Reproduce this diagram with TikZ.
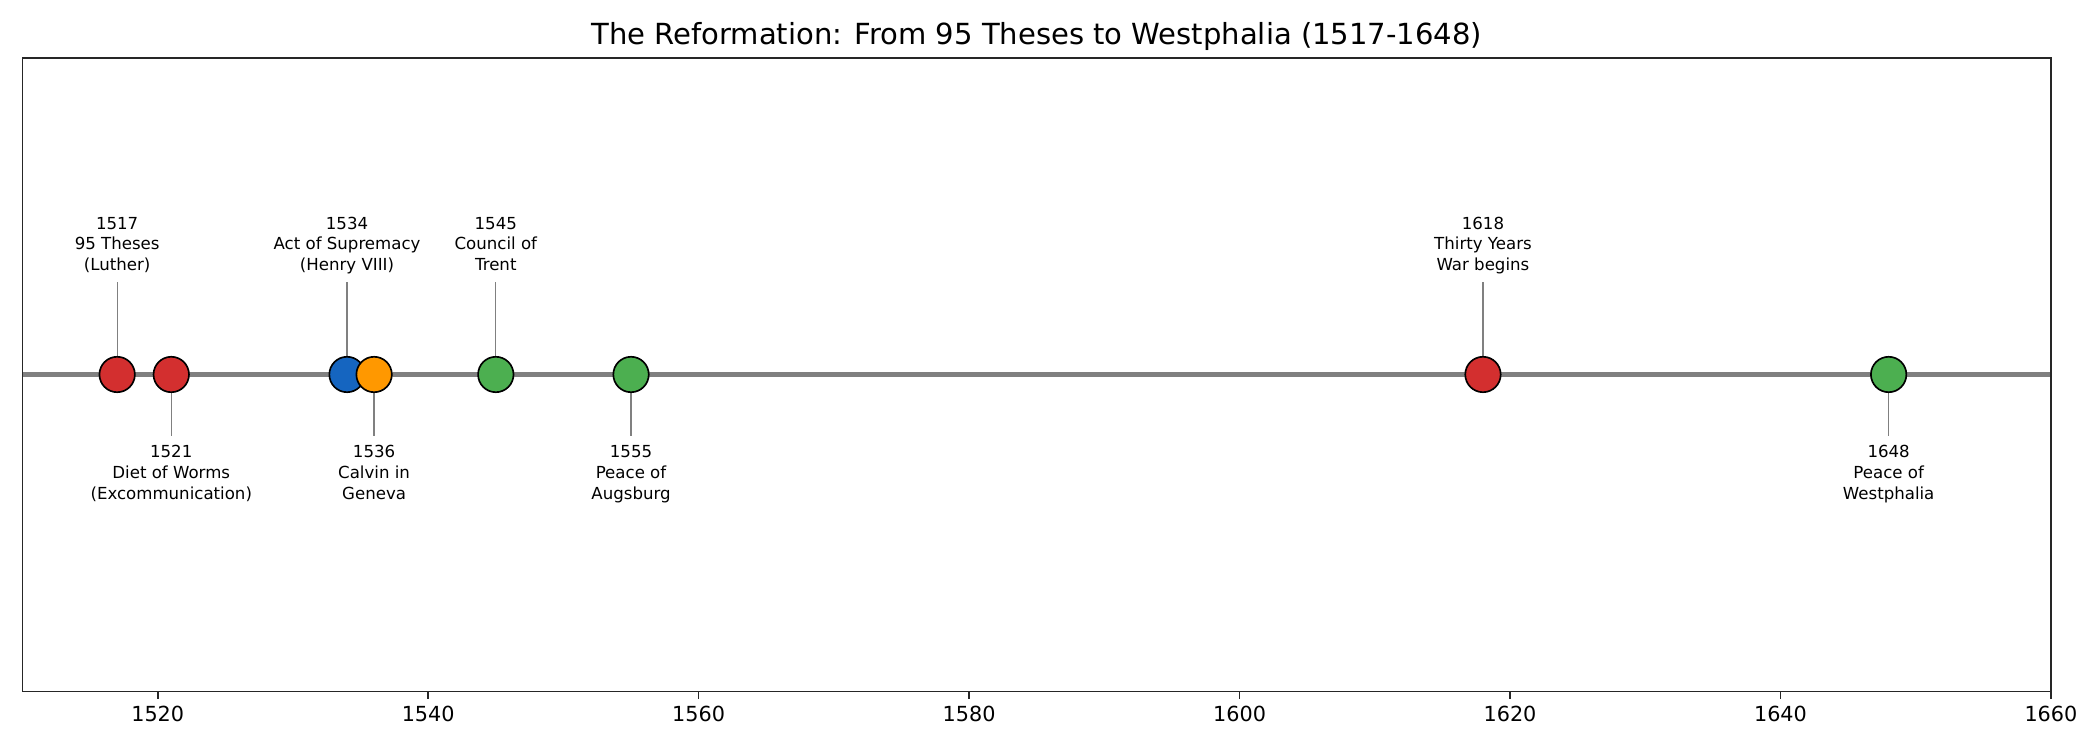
\documentclass[tikz,border=0pt]{standalone}
\usepackage{fontspec}
\setmainfont{DejaVu Sans}
\usetikzlibrary{backgrounds}

\definecolor{evred}{HTML}{D32F2F}
\definecolor{evblue}{HTML}{1565C0}
\definecolor{evorange}{HTML}{FF9800}
\definecolor{evgreen}{HTML}{4CAF50}
\definecolor{linegray}{HTML}{808080}

\begin{document}
\begin{tikzpicture}[
  x=0.229cm, y=1cm,
  font=\fontsize{8}{10}\selectfont,
  event/.style={circle, draw=black, line width=0.8pt, fill=white,
                minimum size=6mm, inner sep=0pt},
  upper/.style={anchor=south, align=center, inner sep=0pt, text depth=0pt},
  lower/.style={anchor=north, align=center, inner sep=0pt},
  upstem/.style={draw=linegray, line width=0.6pt, shorten >=1.87mm},
  downstem/.style={draw=linegray, line width=0.6pt, shorten >=1.52mm},
  axisline/.style={draw=black!85, line width=0.8pt},
  ticklab/.style={anchor=north, inner sep=0pt, font=\fontsize{10}{12}\selectfont}
]
\useasboundingbox (-1.664,-6.358) rectangle (153.63,6.342);

% ---------------- frame, ticks and title ----------------
\draw[axisline] (0,-5.371) rectangle (150,5.365);
\foreach \yr in {1520,1540,...,1660} {
  \pgfmathtruncatemacro{\xx}{\yr-1510}
  \draw[axisline] (\xx,-5.371) -- (\xx,-5.49);
  \node[ticklab] (tick\yr) at (\xx,-5.613) {\yr};
}
\node[font=\fontsize{14}{16.8}\selectfont, anchor=base, inner sep=0pt] (title) at (75,5.58)
  {The Reformation: From 95 Theses to Westphalia (1517-1648)};

% ---------------- events on the line ----------------
\coordinate (tstart) at (0,0);
\coordinate (tend) at (150,0);

\node[event, fill=evred] (ev1517) at (7,0) {};
\node[event, fill=evred] (ev1521) at (11,0) {};
\node[event, fill=evblue] (ev1534) at (24,0) {};
\node[event, fill=evorange] (ev1536) at (26,0) {};
\node[event, fill=evgreen] (ev1545) at (35,0) {};
\node[event, fill=evgreen] (ev1555) at (45,0) {};
\node[event, fill=evred] (ev1618) at (108,0) {};
\node[event, fill=evgreen] (ev1648) at (138,0) {};

% ---------------- labels, above and below in turn ----------------
\node[upper] (lab1517) at (7,1.753) {1517\\95 Theses\\(Luther)};
\node[lower] (lab1521) at (11,-1.194) {1521\\Diet of Worms\\(Excommunication)};
\node[upper] (lab1534) at (24,1.753) {1534\\Act of Supremacy\\(Henry VIII)};
\node[lower] (lab1536) at (26,-1.194) {1536\\Calvin in\\Geneva};
\node[upper] (lab1545) at (35,1.753) {1545\\Council of\\Trent};
\node[lower] (lab1555) at (45,-1.194) {1555\\Peace of\\Augsburg};
\node[upper] (lab1618) at (108,1.753) {1618\\Thirty Years\\War begins};
\node[lower] (lab1648) at (138,-1.194) {1648\\Peace of\\Westphalia};

\begin{scope}[on background layer]
  \draw[draw=linegray, line width=2pt] (tstart) -- (tend);
  \draw[upstem] (ev1517.center) -- (lab1517.south);
  \draw[downstem] (ev1521.center) -- (lab1521.north);
  \draw[upstem] (ev1534.center) -- (lab1534.south);
  \draw[downstem] (ev1536.center) -- (lab1536.north);
  \draw[upstem] (ev1545.center) -- (lab1545.south);
  \draw[downstem] (ev1555.center) -- (lab1555.north);
  \draw[upstem] (ev1618.center) -- (lab1618.south);
  \draw[downstem] (ev1648.center) -- (lab1648.north);
\end{scope}

\end{tikzpicture}
\end{document}
